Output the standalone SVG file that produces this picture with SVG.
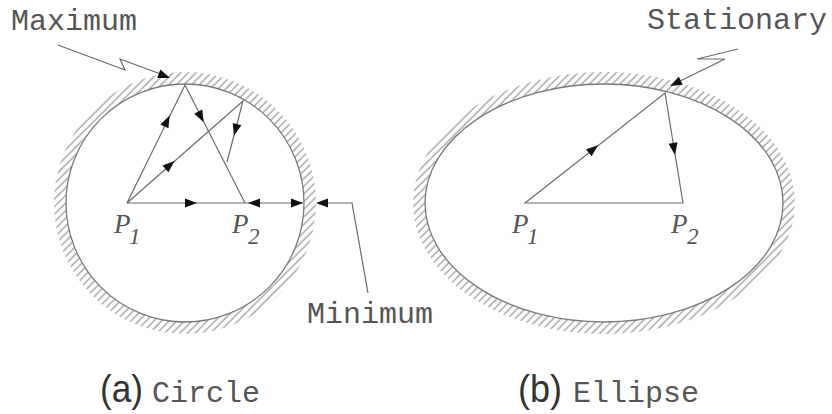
<svg xmlns="http://www.w3.org/2000/svg" xmlns:xlink="http://www.w3.org/1999/xlink" width="832" height="414" viewBox="0 0 832 414">
<style>
.wall{fill:none;stroke:#7a7a7a;stroke-width:1.3}
.hatch{fill:none;stroke:url(#hatch);stroke-width:12}
.ray{fill:none;stroke:#6a6a6a;stroke-width:1.2}
.lead{fill:none;stroke:#6a6a6a;stroke-width:1.2;stroke-linejoin:miter}
.ah{fill:#111}
.mono{font-family:"Liberation Mono","DejaVu Sans Mono",monospace;font-size:30px;fill:#555}
.sans{font-family:"Liberation Sans",Arial,sans-serif;font-size:38px;fill:#333}
.pl{font-family:"Liberation Serif","Times New Roman",serif;font-style:italic;font-size:27px;fill:#555}
.sub{font-size:23px}
</style>
<defs>
<pattern id="hatch" patternUnits="userSpaceOnUse" width="5.4" height="10" patternTransform="rotate(45)">
<line x1="1" y1="0" x2="1" y2="10" stroke="#8c8c8c" stroke-width="1.1"/>
</pattern>
<path id="tri" class="ah" d="M6,0 L-6,-4.5 L-6,4.5 Z"/>
</defs>

<g id="circle-wall">
<circle class="hatch" cx="185" cy="203" r="125"/>
<circle class="wall" cx="185" cy="203" r="119"/>
</g>

<g id="ellipse-wall">
<ellipse class="hatch" cx="604" cy="203" rx="185" ry="125"/>
<ellipse class="wall" cx="604" cy="203" rx="179" ry="119"/>
</g>

<g id="connectors">
<path class="ray" d="M127,203 L185,85 L245,203"/>
<path class="ray" d="M127,203 L303,203"/>
<path class="ray" d="M127,203 L243,101 L227,162"/>
<path class="ray" d="M525,203 L665,93 L683,203 Z"/>
<path class="lead" d="M58,45 L125,70 L120,59 L166,76"/>
<path class="lead" d="M738,49 L697,59 L725,59 L674,84"/>
<path class="lead" d="M368,293 L352,203 L320,203"/>
<use xlink:href="#tri" href="#tri" transform="translate(167,121) rotate(-64)"/>
<use xlink:href="#tri" href="#tri" transform="translate(201,117) rotate(63)"/>
<use xlink:href="#tri" href="#tri" transform="translate(170,165) rotate(-41)"/>
<use xlink:href="#tri" href="#tri" transform="translate(235.5,130) rotate(105)"/>
<use xlink:href="#tri" href="#tri" transform="translate(191,203)"/>
<use xlink:href="#tri" href="#tri" transform="translate(254,203) rotate(180)"/>
<use xlink:href="#tri" href="#tri" transform="translate(297,203)"/>
<use xlink:href="#tri" href="#tri" transform="translate(322,203) rotate(180)"/>
<use xlink:href="#tri" href="#tri" transform="translate(164.4,75.9) rotate(20.6)"/>
<use xlink:href="#tri" href="#tri" transform="translate(675.4,83.4) rotate(154)"/>
<use xlink:href="#tri" href="#tri" transform="translate(593.5,149) rotate(-38)"/>
<use xlink:href="#tri" href="#tri" transform="translate(674,149) rotate(81)"/>
</g>

<g id="label-maximum"><text class="mono" x="11" y="30">Maximum</text></g>
<g id="label-stationary"><text class="mono" x="647" y="29">Stationary</text></g>
<g id="label-minimum"><text class="mono" x="307" y="323">Minimum</text></g>

<g id="point-c-p1"><text class="pl" x="114" y="233">P<tspan class="sub" x="129" y="244">1</tspan></text></g>
<g id="point-c-p2"><text class="pl" x="232" y="233">P<tspan class="sub" x="248" y="244">2</tspan></text></g>
<g id="point-e-p1"><text class="pl" x="512" y="233">P<tspan class="sub" x="527" y="244">1</tspan></text></g>
<g id="point-e-p2"><text class="pl" x="671" y="233">P<tspan class="sub" x="687" y="244">2</tspan></text></g>

<g id="caption-a">
<text class="sans" x="100" y="402" textLength="43" lengthAdjust="spacingAndGlyphs">(a)</text>
<text class="mono" x="152" y="402">Circle</text>
</g>
<g id="caption-b">
<text class="sans" x="518" y="402" textLength="44" lengthAdjust="spacingAndGlyphs">(b)</text>
<text class="mono" x="573" y="402">Ellipse</text>
</g>
</svg>
